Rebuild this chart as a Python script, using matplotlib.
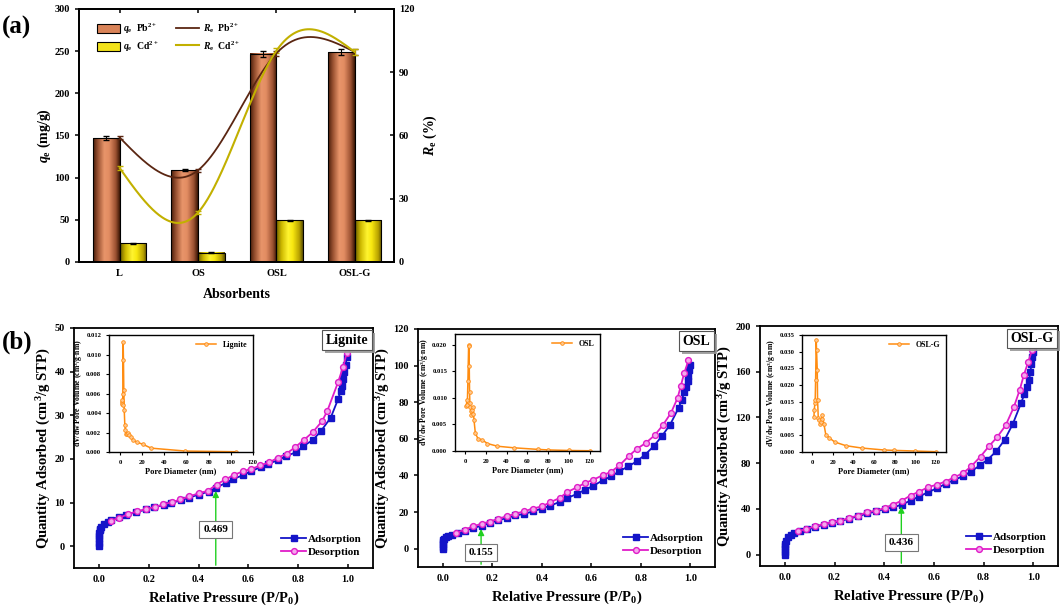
import numpy as np
import matplotlib
matplotlib.use("Agg")
import matplotlib.pyplot as plt
from matplotlib.colors import LinearSegmentedColormap
from matplotlib.patches import Patch
from matplotlib.lines import Line2D
import matplotlib.patheffects as pe

plt.rcParams['font.family'] = ['Liberation Serif', 'DejaVu Serif']
plt.rcParams['font.weight'] = 'bold'
plt.rcParams['axes.labelweight'] = 'bold'
plt.rcParams['mathtext.fontset'] = 'custom'
plt.rcParams['mathtext.rm'] = 'Liberation Serif:bold'
plt.rcParams['mathtext.it'] = 'Liberation Serif:italic:bold'
plt.rcParams['mathtext.bf'] = 'Liberation Serif:bold'
plt.rcParams['axes.linewidth'] = 1.3

# ---------------- data: panel (a) ----------------
absorbents = ["L", "OS", "OSL", "OSL-G"]
qe_pb = [147, 109, 247, 249]
qe_pb_err = [2.5, 1.5, 3.5, 3.5]
qe_cd = [22, 11, 49.5, 49.5]
qe_cd_err = [0.6, 0.5, 0.8, 0.8]
re_pb = [59, 43.5, 99, 99.6]
re_pb_err = [0.8, 0.6, 1.2, 1.2]
re_cd = [44.5, 23.5, 100.2, 99.6]
re_cd_err = [0.8, 0.6, 1.2, 1.5]

# ---------------- data: panel (b) isotherms ----------------
lig_ads_p = [0.0005, 0.0008, 0.001, 0.0015, 0.002, 0.003, 0.005, 0.01, 0.02, 0.035, 0.05, 0.08, 0.11,
             0.15, 0.19, 0.22, 0.26, 0.29, 0.33, 0.36, 0.40, 0.44, 0.47, 0.51, 0.54, 0.58, 0.61, 0.65,
             0.68, 0.72, 0.75, 0.79, 0.82, 0.86, 0.89, 0.93, 0.96, 0.97, 0.975, 0.98, 0.985, 0.99, 0.995]
lig_ads_q = [0.0, 0.8, 1.6, 2.4, 3.0, 3.6, 4.0, 4.3, 5.0, 5.6, 6.0, 6.7, 7.2, 7.8, 8.4, 8.9, 9.4, 9.9,
             10.5, 11.1, 11.8, 12.5, 13.4, 14.5, 15.4, 16.3, 17.2, 18.1, 18.9, 19.7, 20.6, 21.5, 22.9,
             24.4, 26.3, 29.4, 33.7, 35.5, 36.8, 38.3, 39.8, 41.5, 43.3]
lig_des_p = [0.995, 0.98, 0.96, 0.916, 0.895, 0.858, 0.822, 0.788, 0.753, 0.717, 0.683, 0.648, 0.612,
             0.58, 0.542, 0.508, 0.472, 0.437, 0.40, 0.363, 0.326, 0.295, 0.259, 0.225, 0.19, 0.154,
             0.117, 0.081, 0.047]
lig_des_q = [44.3, 41.1, 37.6, 30.9, 28.6, 26.1, 24.3, 22.7, 21.2, 20.2, 19.2, 18.5, 17.7, 17.2, 16.3,
             15.3, 14.1, 12.7, 12.1, 11.4, 10.7, 10.1, 9.6, 9.0, 8.5, 8.0, 7.3, 6.5, 5.8]

osl_ads_p = [0.0005, 0.0008, 0.001, 0.0015, 0.002, 0.004, 0.013, 0.023, 0.036, 0.06, 0.09, 0.124, 0.158,
             0.19, 0.225, 0.26, 0.294, 0.33, 0.364, 0.40, 0.434, 0.472, 0.504, 0.542, 0.576, 0.609,
             0.646, 0.68, 0.714, 0.75, 0.784, 0.818, 0.852, 0.885, 0.919, 0.953, 0.966, 0.976, 0.984,
             0.989, 0.993, 0.997, 1.0]
osl_ads_q = [0.0, 1.0, 2.5, 3.5, 4.5, 5.2, 6.2, 7.1, 7.6, 8.6, 9.9, 11.3, 12.6, 14.0, 15.5, 16.8, 18.2,
             19.0, 20.4, 21.9, 23.5, 25.5, 27.7, 29.9, 32.2, 34.4, 37.3, 39.5, 42.3, 45.0, 47.7, 51.4,
             55.9, 61.4, 67.8, 76.9, 81.4, 85.4, 88.3, 91.4, 94.2, 97.8, 100.5]
osl_des_p = [0.993, 0.976, 0.962, 0.949, 0.922, 0.889, 0.856, 0.82, 0.784, 0.751, 0.714, 0.679, 0.646,
             0.609, 0.575, 0.542, 0.504, 0.472, 0.434, 0.40, 0.364, 0.329, 0.294, 0.259, 0.225, 0.191,
             0.158, 0.124, 0.088, 0.053]
osl_des_q = [102.9, 96.0, 89.0, 82.3, 74.1, 67.4, 61.9, 57.7, 54.5, 50.5, 45.5, 41.9, 40.1, 37.7, 35.9,
             33.5, 31.0, 27.7, 25.3, 23.1, 21.9, 20.4, 19.1, 17.7, 16.4, 14.8, 13.7, 12.2, 10.4, 8.6]

oslg_ads_p = [0.0005, 0.0008, 0.001, 0.0015, 0.002, 0.005, 0.012, 0.023, 0.036, 0.06, 0.09, 0.123, 0.157,
              0.19, 0.224, 0.259, 0.294, 0.332, 0.368, 0.403, 0.436, 0.472, 0.506, 0.54, 0.577, 0.613,
              0.647, 0.683, 0.717, 0.75, 0.785, 0.817, 0.852, 0.885, 0.918, 0.952, 0.965, 0.976, 0.983,
              0.989, 0.993, 0.996, 1.0]
oslg_ads_q = [0.0, 2.5, 5.0, 7.5, 9.3, 12.3, 15.5, 17.5, 19.0, 20.5, 22.0, 24.0, 26.2, 27.8, 29.3, 31.5,
              33.5, 36.0, 37.8, 40.0, 41.3, 43.8, 47.3, 50.8, 54.6, 58.1, 61.9, 65.4, 68.6, 72.7, 78.0,
              83.2, 90.5, 100.4, 114.3, 133.0, 140.7, 146.6, 152.4, 159.7, 167.0, 172.8, 177.2]
oslg_des_p = [0.996, 0.98, 0.962, 0.946, 0.922, 0.889, 0.855, 0.821, 0.788, 0.75, 0.717, 0.683, 0.647,
              0.613, 0.577, 0.542, 0.506, 0.472, 0.436, 0.403, 0.368, 0.332, 0.294, 0.259, 0.224, 0.19,
              0.157, 0.123, 0.087, 0.052]
oslg_des_q = [179.0, 168.5, 156.8, 144.2, 129.0, 113.0, 102.8, 94.6, 85.8, 77.1, 71.2, 67.7, 63.9, 61.3,
              59.0, 55.2, 51.7, 47.3, 43.8, 40.9, 38.5, 37.1, 34.2, 32.1, 29.8, 28.3, 26.9, 24.8, 22.5, 20.4]

# ---------------- data: insets (pore size distribution) ----------------
lig_pd = [1.7, 1.9, 2.1, 2.3, 2.5, 2.8, 3.1, 3.4, 3.8, 4.3, 4.8, 5.5, 6.3, 7.3, 8.5, 10, 12, 15.5, 20.5, 28, 59, 105]
lig_pv = [0.0051, 0.0049, 0.0053, 0.0048, 0.0060, 0.0113, 0.0094, 0.0064, 0.0043, 0.0028, 0.0023, 0.0019,
          0.0018, 0.0020, 0.0017, 0.0015, 0.0012, 0.0010, 0.0008, 0.0004, 0.0001, 0.00003]
osl_pd = [1.0, 1.5, 1.9, 2.5, 3.2, 3.5, 3.8, 4.1, 4.4, 4.8, 5.5, 5.9, 6.6, 7.0, 7.4, 8.4, 9.7, 12.3, 16.2,
          21.4, 31, 47, 70.5, 80, 100, 120]
osl_pv = [0.0085, 0.0096, 0.0086, 0.0131, 0.0200, 0.0198, 0.0159, 0.0110, 0.0090, 0.0082, 0.0076, 0.0068,
          0.0077, 0.0069, 0.0083, 0.0058, 0.0033, 0.0023, 0.0021, 0.0014, 0.0009, 0.0006, 0.0003, 0.0002,
          0.0001, 0.00005]
oslg_pd = [1.6, 1.9, 2.5, 2.8, 3.2, 3.8, 4.1, 4.8, 5.1, 5.8, 6.9, 7.5, 8.3, 9.2, 9.6, 11.2, 13.1, 16.6,
           21.8, 32.6, 48, 70, 79, 100, 120]
oslg_pv = [0.0106, 0.0126, 0.0146, 0.0156, 0.0216, 0.0335, 0.0305, 0.0246, 0.0156, 0.0101, 0.0096, 0.0085,
           0.0091, 0.0098, 0.0111, 0.0085, 0.0052, 0.0042, 0.0030, 0.0019, 0.0012, 0.0006, 0.0005, 0.0003,
           0.0001]


def natural_spline(x, y, n=300):
    x = np.asarray(x, float)
    y = np.asarray(y, float)
    m = len(x)
    h = np.diff(x)
    A = np.zeros((m, m))
    r = np.zeros(m)
    A[0, 0] = A[-1, -1] = 1
    for i in range(1, m - 1):
        A[i, i - 1] = h[i - 1]
        A[i, i] = 2 * (h[i - 1] + h[i])
        A[i, i + 1] = h[i]
        r[i] = 3 * ((y[i + 1] - y[i]) / h[i] - (y[i] - y[i - 1]) / h[i - 1])
    c = np.linalg.solve(A, r)
    xs = np.linspace(x[0], x[-1], n)
    ys = np.empty_like(xs)
    for k, xv in enumerate(xs):
        i = min(np.searchsorted(x, xv, side='right') - 1, m - 2)
        dx = xv - x[i]
        b = (y[i + 1] - y[i]) / h[i] - h[i] * (2 * c[i] + c[i + 1]) / 3
        d = (c[i + 1] - c[i]) / (3 * h[i])
        ys[k] = y[i] + b * dx + c[i] * dx ** 2 + d * dx ** 3
    return xs, ys


fig = plt.figure(figsize=(10.63, 6.07), dpi=100)

# ---------------- panel (a) ----------------
ax = fig.add_axes([0.0743, 0.5684, 0.2963, 0.4168])
x = np.arange(len(absorbents))
w = 0.34
pb_cmap = LinearSegmentedColormap.from_list('pb', [(0, '#4A1E0A'), (0.18, '#9A5232'), (0.42, '#E8956A'),
                                                   (0.6, '#E28C62'), (0.85, '#9C5232'), (1, '#3E1806')])
cd_cmap = LinearSegmentedColormap.from_list('cd', [(0, '#6E6000'), (0.2, '#CDB800'), (0.45, '#FFF430'),
                                                   (0.62, '#F8E810'), (0.87, '#B8A200'), (1, '#5E5200')])
grad = np.linspace(0, 1, 64).reshape(1, -1)
pb_x = x - w / 2
cd_x = x + w / 2
for xi, h in zip(pb_x, qe_pb):
    ax.imshow(grad, cmap=pb_cmap, extent=[xi - w / 2, xi + w / 2, 0, h], aspect='auto', zorder=2)
for xi, h in zip(cd_x, qe_cd):
    ax.imshow(grad, cmap=cd_cmap, extent=[xi - w / 2, xi + w / 2, 0, h], aspect='auto', zorder=2)
ax.bar(pb_x, qe_pb, w, facecolor='none', edgecolor='black', linewidth=0.8, zorder=3)
ax.bar(cd_x, qe_cd, w, facecolor='none', edgecolor='black', linewidth=0.8, zorder=3)
ax.errorbar(pb_x, qe_pb, yerr=qe_pb_err, fmt='none', ecolor='black', capsize=2.5, elinewidth=0.8, zorder=4)
ax.errorbar(cd_x, qe_cd, yerr=qe_cd_err, fmt='none', ecolor='black', capsize=2.5, elinewidth=0.8, zorder=4)
ax.set_xlim(-0.52, 3.5)
ax.set_ylim(0, 300)
ax.set_yticks(np.arange(0, 301, 50))
ax.set_xticks(x)
ax.set_xticklabels(absorbents)
ax.tick_params(axis='both', labelsize=7.5, width=1.1, length=3)
ax.tick_params(axis='x', top=True, direction='in', pad=5)
ax.set_xlabel('Absorbents', fontsize=10, labelpad=7)
ax.set_ylabel(r'$\mathit{q}_\mathrm{e}$ (mg/g)', fontsize=10, labelpad=1)

ax2 = ax.twinx()
xs, ys = natural_spline(x, re_pb)
ax2.plot(xs, ys, color='#5A2612', lw=1.3, zorder=5)
xs, ys = natural_spline(x, re_cd)
ax2.plot(xs, ys, color='#C2B000', lw=1.5, zorder=5)
ax2.errorbar(x, re_pb, yerr=re_pb_err, fmt='none', ecolor='#5A2612', capsize=2.5, elinewidth=0.8)
ax2.errorbar(x, re_cd, yerr=re_cd_err, fmt='none', ecolor='#C2B000', capsize=2.5, elinewidth=0.8)
ax2.set_ylim(0, 120)
ax2.set_yticks(np.arange(0, 121, 30))
ax2.tick_params(axis='y', labelsize=7.5, direction='in', width=1.1, length=3)
ax2.set_ylabel(r'$\mathit{R}_\mathrm{e}$ (%)', fontsize=10, labelpad=5)
for lab in ax.get_xticklabels() + ax.get_yticklabels() + ax2.get_yticklabels():
    lab.set_fontweight('bold')

handles = [Patch(facecolor='#D98358', edgecolor='black', lw=0.8),
           Patch(facecolor='#F2E21A', edgecolor='black', lw=0.8),
           Line2D([], [], color='#5A2612', lw=1.3),
           Line2D([], [], color='#C2B000', lw=1.5)]
labels = [r'$\mathit{q}_\mathrm{e}$  Pb$^{2+}$', r'$\mathit{q}_\mathrm{e}$  Cd$^{2+}$',
          r'$\mathit{R}_\mathrm{e}$  Pb$^{2+}$', r'$\mathit{R}_\mathrm{e}$  Cd$^{2+}$']
ax2.legend(handles, labels, ncol=2, loc='upper left', bbox_to_anchor=(0.03, 0.985), frameon=False,
           fontsize=7, handlelength=2.3, handleheight=1.1, columnspacing=1.8, labelspacing=0.35,
           handletextpad=0.4)

fig.text(0.002, 0.945, '(a)', fontsize=18, fontweight='bold')
fig.text(0.002, 0.425, '(b)', fontsize=18, fontweight='bold')

# ---------------- panel (b) ----------------
panels = [
    dict(rect=[0.0696, 0.0643, 0.2813, 0.3954], ads=(lig_ads_p, lig_ads_q), des=(lig_des_p, lig_des_q),
         ylim=(-5, 50), yt=np.arange(0, 51, 10), name='Lignite', arrow_x=0.469, arrow_y=13.3, box_y=3.8,
         lab='0.469', inset=[0.1025, 0.2553, 0.1355, 0.1928], pd=(lig_pd, lig_pv), pylim=(0, 0.012),
         pyt=np.arange(0, 0.0121, 0.002), pfmt='%.3f', iname='Lignite', pxmax=120),
    dict(rect=[0.3932, 0.0659, 0.2794, 0.3921], ads=(osl_ads_p, osl_ads_q), des=(osl_des_p, osl_des_q),
         ylim=(-10, 120), yt=np.arange(0, 121, 20), name='OSL', arrow_x=0.155, arrow_y=12.3, box_y=-2,
         lab='0.155', inset=[0.4280, 0.2570, 0.1364, 0.1928], pd=(osl_pd, osl_pv), pylim=(0, 0.022),
         pyt=np.arange(0, 0.0201, 0.005), pfmt='%.3f', iname='OSL', pxmax=130),
    dict(rect=[0.7150, 0.0675, 0.2803, 0.3954], ads=(oslg_ads_p, oslg_ads_q), des=(oslg_des_p, oslg_des_q),
         ylim=(-10, 200), yt=np.arange(0, 201, 40), name='OSL-G', arrow_x=0.469, arrow_y=44.5, box_y=10.8,
         lab='0.436', inset=[0.7545, 0.2553, 0.1355, 0.1928], pd=(oslg_pd, oslg_pv), pylim=(0, 0.035),
         pyt=np.arange(0, 0.0351, 0.005), pfmt='%.3f', iname='OSL-G', pxmax=130),
]

for p in panels:
    a = fig.add_axes(p['rect'])
    a.plot(*p['ads'], color='#1414C8', marker='s', ms=4, lw=1.3, label='Adsorption', zorder=3)
    a.plot(*p['des'], color='#E01CC8', marker='o', ms=4.2, mfc='#F4A8EC', mec='#E01CC8', mew=1.0,
           lw=1.3, label='Desorption', zorder=4)
    a.set_xlim(-0.1, 1.1)
    a.set_ylim(*p['ylim'])
    a.set_xticks(np.arange(0, 1.01, 0.2))
    a.set_yticks(p['yt'])
    a.tick_params(axis='x', direction='in', labelsize=7.5, width=1.1, length=3, pad=5)
    a.tick_params(axis='y', direction='out', labelsize=7.5, width=1.1, length=3)
    a.xaxis.set_major_formatter(matplotlib.ticker.FormatStrFormatter('%.1f'))
    for lab in a.get_xticklabels() + a.get_yticklabels():
        lab.set_fontweight('bold')
    a.set_xlabel(r'Relative Pressure (P/P$_0$)', fontsize=10.5, labelpad=4)
    a.set_ylabel(r'Quantity Adsorbed (cm$^3$/g STP)', fontsize=10.5, labelpad=1)
    a.legend(loc='lower right', bbox_to_anchor=(1.0, 0.0), frameon=False, fontsize=8, handlelength=2.2,
             labelspacing=0.3, handletextpad=0.2, borderaxespad=0.6)
    a.annotate('', xy=(p['arrow_x'], p['arrow_y']), xytext=(p['arrow_x'], p['ylim'][0]),
               arrowprops=dict(arrowstyle='-|>', color='#20D020', lw=1.0, mutation_scale=9), zorder=5)
    a.text(p['arrow_x'], p['box_y'], p['lab'], ha='center', va='center', fontsize=8, fontweight='bold',
           zorder=6, bbox=dict(boxstyle='square,pad=0.35', fc='white', ec='#777777', lw=0.8))
    t = a.text(0.985, 0.975, p['name'], transform=a.transAxes, ha='right', va='top', fontsize=10,
               fontweight='bold', zorder=6,
               bbox=dict(boxstyle='square,pad=0.25', fc='white', ec='#555555', lw=0.8))
    t.get_bbox_patch().set_path_effects([pe.withSimplePatchShadow(offset=(2, -2), shadow_rgbFace='#999999',
                                                                  alpha=0.9)])

    ins = fig.add_axes(p['inset'])
    ins.plot(*p['pd'], color='#FF8C10', marker='o', ms=2.6, mfc='#FFC890', mec='#FF8C10', mew=0.6,
             lw=1.1, label=p['iname'])
    ins.set_xlim(-10, p['pxmax'])
    ins.set_ylim(*p['pylim'])
    ins.set_xticks(np.arange(0, 121, 20))
    ins.set_yticks(p['pyt'])
    ins.yaxis.set_major_formatter(matplotlib.ticker.FormatStrFormatter(p['pfmt']))
    ins.tick_params(labelsize=4.8, width=0.8, length=2)
    for sp in ins.spines.values():
        sp.set_linewidth(1.0)
    ins.set_xlabel('Pore Diameter (nm)', fontsize=6, labelpad=2)
    ins.set_ylabel(r'dV/dw Pore Volume (cm$^3$/g$\cdot$nm)', fontsize=5.6)
    ins.yaxis.set_label_coords(-0.165, 0.5)
    ins.legend(loc='upper right', frameon=False, fontsize=5.8, handlelength=2.5, borderaxespad=0.3)

fig.savefig('out.png', dpi=100)
